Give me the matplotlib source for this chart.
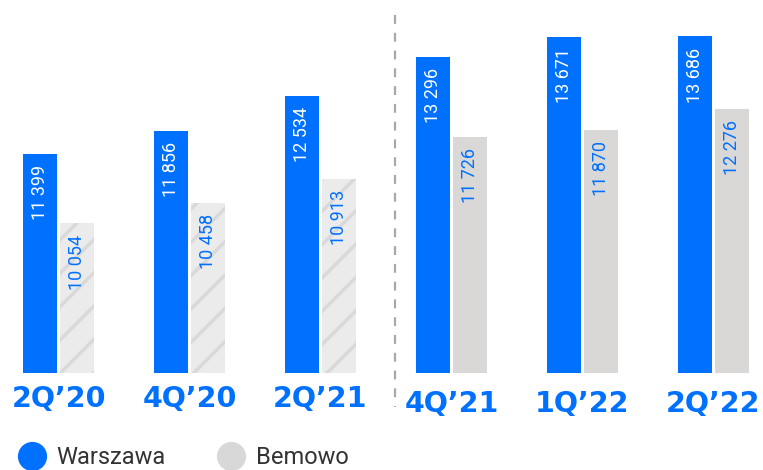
import numpy as np
import matplotlib
matplotlib.use("Agg")
import matplotlib.pyplot as plt
from matplotlib.lines import Line2D

# dane
periods = ["2Q’20", "4Q’20", "2Q’21", "4Q’21", "1Q’22", "2Q’22"]
warszawa = [11399, 11856, 12534, 13296, 13671, 13686]
bemowo = [10054, 10458, 10913, 11726, 11870, 12276]
hatched = [True, True, True, False, False, False]
series_names = ["Warszawa", "Bemowo"]

BLUE = "#0070FF"
GRAY = "#D9D8D6"
LIGHT = "#EBEBEB"

plt.rcParams["hatch.linewidth"] = 2.5

fig = plt.figure(figsize=(7.63, 4.70), dpi=100)
ax = fig.add_axes([0, 97 / 470, 1, 373 / 470])

x = np.arange(len(periods))
w = 0.26
off = 0.141

ax.bar(x - off, warszawa, width=w, color=BLUE, linewidth=0)
for i in range(len(periods)):
    if hatched[i]:
        ax.bar(x[i] + off, bemowo[i], width=w, color=LIGHT, edgecolor="#D9D9D9",
               linewidth=0, hatch="/")
    else:
        ax.bar(x[i] + off, bemowo[i], width=w, color=GRAY, linewidth=0)

ax.set_xlim(-0.4466, 5.378)
ax.set_ylim(7147, 14394)
ax.axis("off")

def fmt(v):
    return f"{v:,}".replace(",", " ")

for i in range(len(periods)):
    ax.annotate(fmt(warszawa[i]), (x[i] - off, warszawa[i]), xytext=(0, -8),
                textcoords="offset points", rotation=90, ha="center", va="top",
                color="white", fontsize=13, family="Roboto")
    ax.annotate(fmt(bemowo[i]), (x[i] + off, bemowo[i]), xytext=(0, -8),
                textcoords="offset points", rotation=90, ha="center", va="top",
                color=BLUE, fontsize=13, family="Roboto")
    ylab = -0.070 if i < 3 else -0.082
    ax.text(x[i], ylab, periods[i], transform=ax.get_xaxis_transform(),
            ha="center", va="center", color=BLUE, fontsize=20.5,
            fontweight="bold", family="DejaVu Sans")

# linia podziału
ax.plot([2.57, 2.57], [1.0 - 15 / 373, -34 / 373], transform=ax.get_xaxis_transform(),
        color="#A8A8A8", lw=1.6, ls=(0, (4, 4)), clip_on=False)

handles = [Line2D([], [], marker="o", ls="", color=BLUE, markersize=20),
           Line2D([], [], marker="o", ls="", color="#D8D8D8", markersize=20)]
fig.legend(handles, series_names, loc="center left", bbox_to_anchor=(-0.017, 12 / 470),
           ncol=2, frameon=False, handletextpad=0.05, columnspacing=1.75,
           labelcolor="#333333", prop={"family": "Roboto", "size": 17})

fig.savefig("out.png", dpi=100)
